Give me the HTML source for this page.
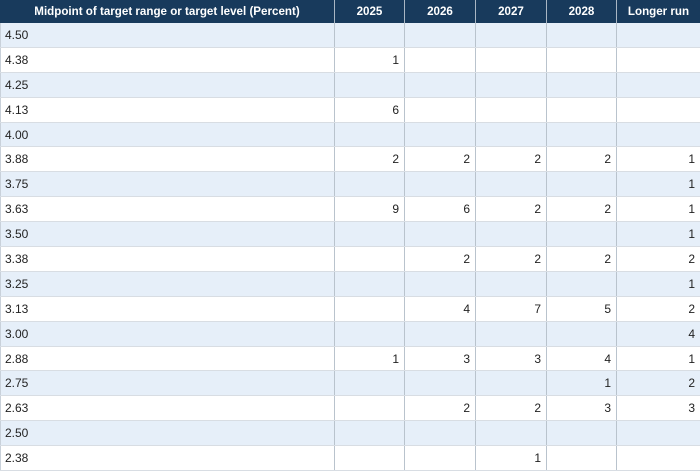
<!DOCTYPE html>
<html><head><style>
*{margin:0;padding:0;box-sizing:border-box}
body{width:700px;height:469px;overflow:hidden;background:#fff;font-family:"Liberation Sans",Arial,sans-serif;font-size:12px;color:#222;position:relative}
.hd{position:absolute;left:0;top:0;width:700px;height:23px;background:#183a5c;color:#fff;font-weight:bold;font-size:11.6px}
.r{position:relative;width:700px;height:24.9px;border-bottom:1px solid #d8dde3}
.r.a{background:#e6eff9}
.c{position:absolute;top:0;height:100%;display:flex;align-items:center;justify-content:flex-end;padding-right:5px}
.hd .c{justify-content:center;padding:0;border-left:1px solid #a9b6c3}
.c0{left:0;width:334px;justify-content:flex-start;padding-left:4px;border-left:1px solid #c9d1da}
.hd .c0{border-left:none}
.c1{left:334px;width:70px;border-left:1px solid #b9c3cd}
.c2{left:404px;width:71px;border-left:1px solid #b9c3cd}
.c3{left:475px;width:71px;border-left:1px solid #b9c3cd}
.c4{left:546px;width:70px;border-left:1px solid #b9c3cd}
.c5{left:616px;width:84px;border-left:1px solid #b9c3cd}
#body{position:absolute;top:23px;left:0}
</style></head><body>
<div class="hd">
<div class="c c0">Midpoint of target range or target level (Percent)</div>
<div class="c c1">2025</div><div class="c c2">2026</div><div class="c c3">2027</div><div class="c c4">2028</div><div class="c c5">Longer run</div>
</div>
<div id="body">
<div class="r a"><div class="c c0">4.50</div><div class="c c1"></div><div class="c c2"></div><div class="c c3"></div><div class="c c4"></div><div class="c c5"></div></div>
<div class="r"><div class="c c0">4.38</div><div class="c c1">1</div><div class="c c2"></div><div class="c c3"></div><div class="c c4"></div><div class="c c5"></div></div>
<div class="r a"><div class="c c0">4.25</div><div class="c c1"></div><div class="c c2"></div><div class="c c3"></div><div class="c c4"></div><div class="c c5"></div></div>
<div class="r"><div class="c c0">4.13</div><div class="c c1">6</div><div class="c c2"></div><div class="c c3"></div><div class="c c4"></div><div class="c c5"></div></div>
<div class="r a"><div class="c c0">4.00</div><div class="c c1"></div><div class="c c2"></div><div class="c c3"></div><div class="c c4"></div><div class="c c5"></div></div>
<div class="r"><div class="c c0">3.88</div><div class="c c1">2</div><div class="c c2">2</div><div class="c c3">2</div><div class="c c4">2</div><div class="c c5">1</div></div>
<div class="r a"><div class="c c0">3.75</div><div class="c c1"></div><div class="c c2"></div><div class="c c3"></div><div class="c c4"></div><div class="c c5">1</div></div>
<div class="r"><div class="c c0">3.63</div><div class="c c1">9</div><div class="c c2">6</div><div class="c c3">2</div><div class="c c4">2</div><div class="c c5">1</div></div>
<div class="r a"><div class="c c0">3.50</div><div class="c c1"></div><div class="c c2"></div><div class="c c3"></div><div class="c c4"></div><div class="c c5">1</div></div>
<div class="r"><div class="c c0">3.38</div><div class="c c1"></div><div class="c c2">2</div><div class="c c3">2</div><div class="c c4">2</div><div class="c c5">2</div></div>
<div class="r a"><div class="c c0">3.25</div><div class="c c1"></div><div class="c c2"></div><div class="c c3"></div><div class="c c4"></div><div class="c c5">1</div></div>
<div class="r"><div class="c c0">3.13</div><div class="c c1"></div><div class="c c2">4</div><div class="c c3">7</div><div class="c c4">5</div><div class="c c5">2</div></div>
<div class="r a"><div class="c c0">3.00</div><div class="c c1"></div><div class="c c2"></div><div class="c c3"></div><div class="c c4"></div><div class="c c5">4</div></div>
<div class="r"><div class="c c0">2.88</div><div class="c c1">1</div><div class="c c2">3</div><div class="c c3">3</div><div class="c c4">4</div><div class="c c5">1</div></div>
<div class="r a"><div class="c c0">2.75</div><div class="c c1"></div><div class="c c2"></div><div class="c c3"></div><div class="c c4">1</div><div class="c c5">2</div></div>
<div class="r"><div class="c c0">2.63</div><div class="c c1"></div><div class="c c2">2</div><div class="c c3">2</div><div class="c c4">3</div><div class="c c5">3</div></div>
<div class="r a"><div class="c c0">2.50</div><div class="c c1"></div><div class="c c2"></div><div class="c c3"></div><div class="c c4"></div><div class="c c5"></div></div>
<div class="r"><div class="c c0">2.38</div><div class="c c1"></div><div class="c c2"></div><div class="c c3">1</div><div class="c c4"></div><div class="c c5"></div></div>
</div>
</body></html>
